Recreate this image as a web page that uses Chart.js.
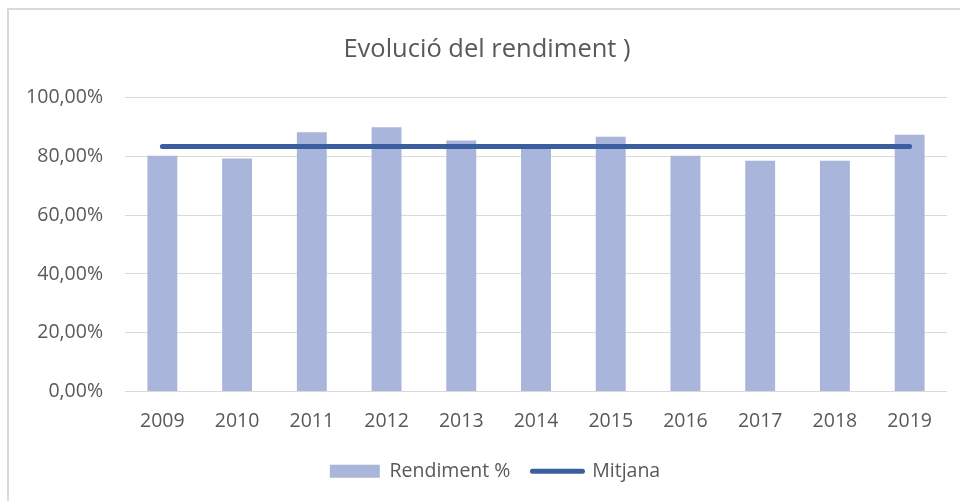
<!DOCTYPE html>
<html>
<head>
<meta charset="utf-8">
<script src="https://cdn.jsdelivr.net/npm/chart.js@4/dist/chart.umd.min.js"></script>
<style>
  html, body { margin: 0; padding: 0; background: #fff; overflow: hidden; }
  #box { position: absolute; left: 7px; top: 8px; width: 960px; height: 500px;
         border-left: 2px solid #d9d9d9; border-top: 2px solid #d9d9d9; }
  #wrap { position: absolute; left: 0; top: 0; width: 960px; height: 493px; }
</style>
</head>
<body>
<div id="box"><div id="wrap"><canvas id="c"></canvas></div></div>
<script>
const categories = ['2009','2010','2011','2012','2013','2014','2015','2016','2017','2018','2019'];
const rendiment = [80.2, 79.3, 88.2, 89.9, 85.4, 82.8, 86.7, 80.2, 78.5, 78.5, 87.4];
const mitjana = [83.4, 83.4, 83.4, 83.4, 83.4, 83.4, 83.4, 83.4, 83.4, 83.4, 83.4];
const yTicks = [0, 20, 40, 60, 80, 100];
const titleText = 'Evolució del rendiment )';
const seriesNames = ['Rendiment %', 'Mitjana'];

const FONT = "'Open Sans', 'Noto Sans', sans-serif";
const TXT = '#595959';
const BAR = '#A9B5DA';
const LINE = '#3A5E9F';

// nudge title and legend horizontally to match the reference centering
const shiftPlugin = {
  id: 'shiftBlocks',
  afterLayout(chart) {
    if (chart.titleBlock) { chart.titleBlock.left += 9; chart.titleBlock.right += 9; }
    if (chart.legend) { chart.legend.left += 17; chart.legend.right += 17; }
  }
};

new Chart(document.getElementById('c'), {
  data: {
    labels: categories,
    datasets: [
      { type: 'line', label: seriesNames[1], data: mitjana, borderColor: LINE, backgroundColor: LINE,
        borderWidth: 5, borderCapStyle: 'round', pointRadius: 0, order: 0 },
      { type: 'bar', label: seriesNames[0], data: rendiment, backgroundColor: BAR,
        categoryPercentage: 0.8, barPercentage: 0.5, order: 1 }
    ]
  },
  plugins: [shiftPlugin],
  options: {
    responsive: true,
    maintainAspectRatio: false,
    animation: false,
    layout: { padding: { left: 0, right: 22, top: 10, bottom: 12 } },
    plugins: {
      tooltip: { enabled: false },
      title: { display: true, text: titleText, color: TXT,
        font: { family: FONT, size: 25.5, weight: 'normal' }, padding: { top: 14, bottom: 33 } },
      legend: {
        position: 'bottom',
        labels: {
          color: TXT, font: { family: FONT, size: 19.5 },
          usePointStyle: true, pointStyleWidth: 50, boxHeight: 13, padding: 22,
          generateLabels: (chart) => [
            { text: seriesNames[0], fillStyle: BAR, strokeStyle: BAR, lineWidth: 0,
              pointStyle: 'rect', datasetIndex: 1, fontColor: TXT },
            { text: seriesNames[1], fillStyle: LINE, strokeStyle: LINE, lineWidth: 5,
              lineCap: 'round', pointStyle: 'line', datasetIndex: 0, fontColor: TXT }
          ]
        }
      }
    },
    scales: {
      x: {
        grid: { display: false },
        border: { display: false },
        afterFit: (axis) => { axis.height = 48; },
        ticks: { color: TXT, font: { family: FONT, size: 19.5 }, padding: 10 }
      },
      y: {
        min: 0, max: 100,
        afterBuildTicks: (axis) => { axis.ticks = yTicks.map(v => ({ value: v })); },
        afterFit: (axis) => { axis.width = 116; },
        grid: { color: '#d9d9d9', lineWidth: 1, drawTicks: false },
        border: { display: false },
        ticks: { color: TXT, font: { family: FONT, size: 19.5 }, padding: 22,
          callback: (v) => v.toFixed(2).replace('.', ',') + '%' }
      }
    }
  }
});
</script>
</body>
</html>
